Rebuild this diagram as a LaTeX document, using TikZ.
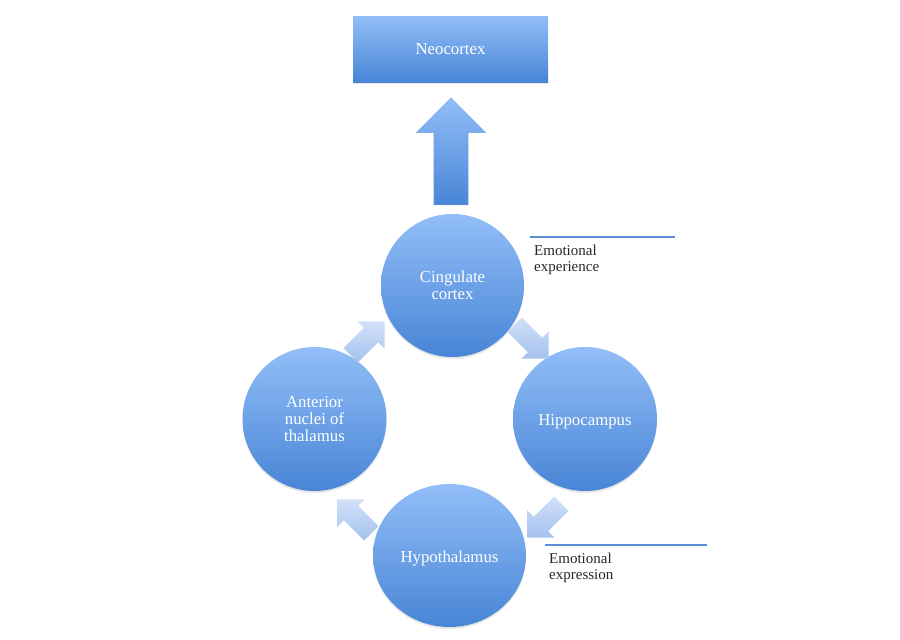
\documentclass[tikz,border=0pt]{standalone}
\usepackage{fontspec}
\setmainfont{Liberation Serif}
\usetikzlibrary{shapes.arrows,shapes.geometric,shadows}
\definecolor{bluetop}{RGB}{146,190,248}
\definecolor{bluebot}{RGB}{72,133,214}
\definecolor{paletop}{RGB}{210,225,249}
\definecolor{palebot}{RGB}{164,193,237}
\definecolor{rulecol}{RGB}{92,142,214}
\tikzset{
  bubble/.style={circle,top color=bluetop,bottom color=bluebot,draw=none,
    text=white,align=center,font=\fontsize{16.8}{17}\selectfont,
    execute at begin node={\rule{0pt}{17.5pt}},
    drop shadow={opacity=0.2,shadow xshift=0pt,shadow yshift=-2pt}},
  topbox/.style={rectangle,top color=bluetop,bottom color=bluebot,draw=none,
    text=white,font=\fontsize{16.8}{17}\selectfont,
    minimum width=195pt,minimum height=66pt,
    drop shadow={opacity=0.2,shadow xshift=0pt,shadow yshift=-2pt}},
  bigarrow/.style={single arrow,draw=rulecol!80,line width=0.4pt,
    top color=bluetop,bottom color=bluebot,
    minimum height=107pt,minimum width=69pt,single arrow head extend=17.5pt,
    inner xsep=0pt,inner ysep=17pt},
  smallarrow/.style={single arrow,draw=none,top color=paletop,bottom color=palebot,
    minimum height=48pt,minimum width=38pt,single arrow head extend=9pt,
    inner xsep=0pt,inner ysep=10pt},
  tag/.style={anchor=north west,align=left,inner sep=0pt,text=black!85,
    font=\fontsize{15}{16}\selectfont},
  rule/.style={rulecol,line width=1.6pt}
}
\begin{document}
\begin{tikzpicture}[x=1pt,y=-1pt]
\useasboundingbox (0,0) rectangle (900,640);
% top box and the big arrow
\node[topbox] (neo) at (450.5,49) {Neocortex};
\node[bigarrow,rotate=90] (up) at (451,160) {};
% the four stations of the circuit
\node[bubble,minimum size=143pt] (cing) at (452.5,285.5) {Cingulate\\cortex};
\node[bubble,minimum size=144pt] (hipp) at (585,419) {Hippocampus};
\node[bubble,minimum size=144pt] (ant) at (314.5,419) {Anterior\\nuclei of\\thalamus};
\node[bubble,ellipse,minimum width=153pt,minimum height=143pt] (hypo) at (449.5,555.5) {Hypothalamus};
% small arrows round the loop
\node[smallarrow,rotate=-45] (a1) at (528,338) {};
\node[smallarrow,rotate=-135] (a2) at (548,517) {};
\node[smallarrow,rotate=135] (a3) at (358,520) {};
\node[smallarrow,rotate=45] (a4) at (364,342) {};
% side notes
\coordinate (exp1) at (530,237);
\coordinate (exp2) at (545,545);
\draw[rule] (exp1) -- ++(145,0);
\node[tag] (experience) at ([shift={(4,8)}]exp1) {Emotional\\experience};
\draw[rule] (exp2) -- ++(162,0);
\node[tag] (expression) at ([shift={(4,8)}]exp2) {Emotional\\expression};
\end{tikzpicture}
\end{document}
